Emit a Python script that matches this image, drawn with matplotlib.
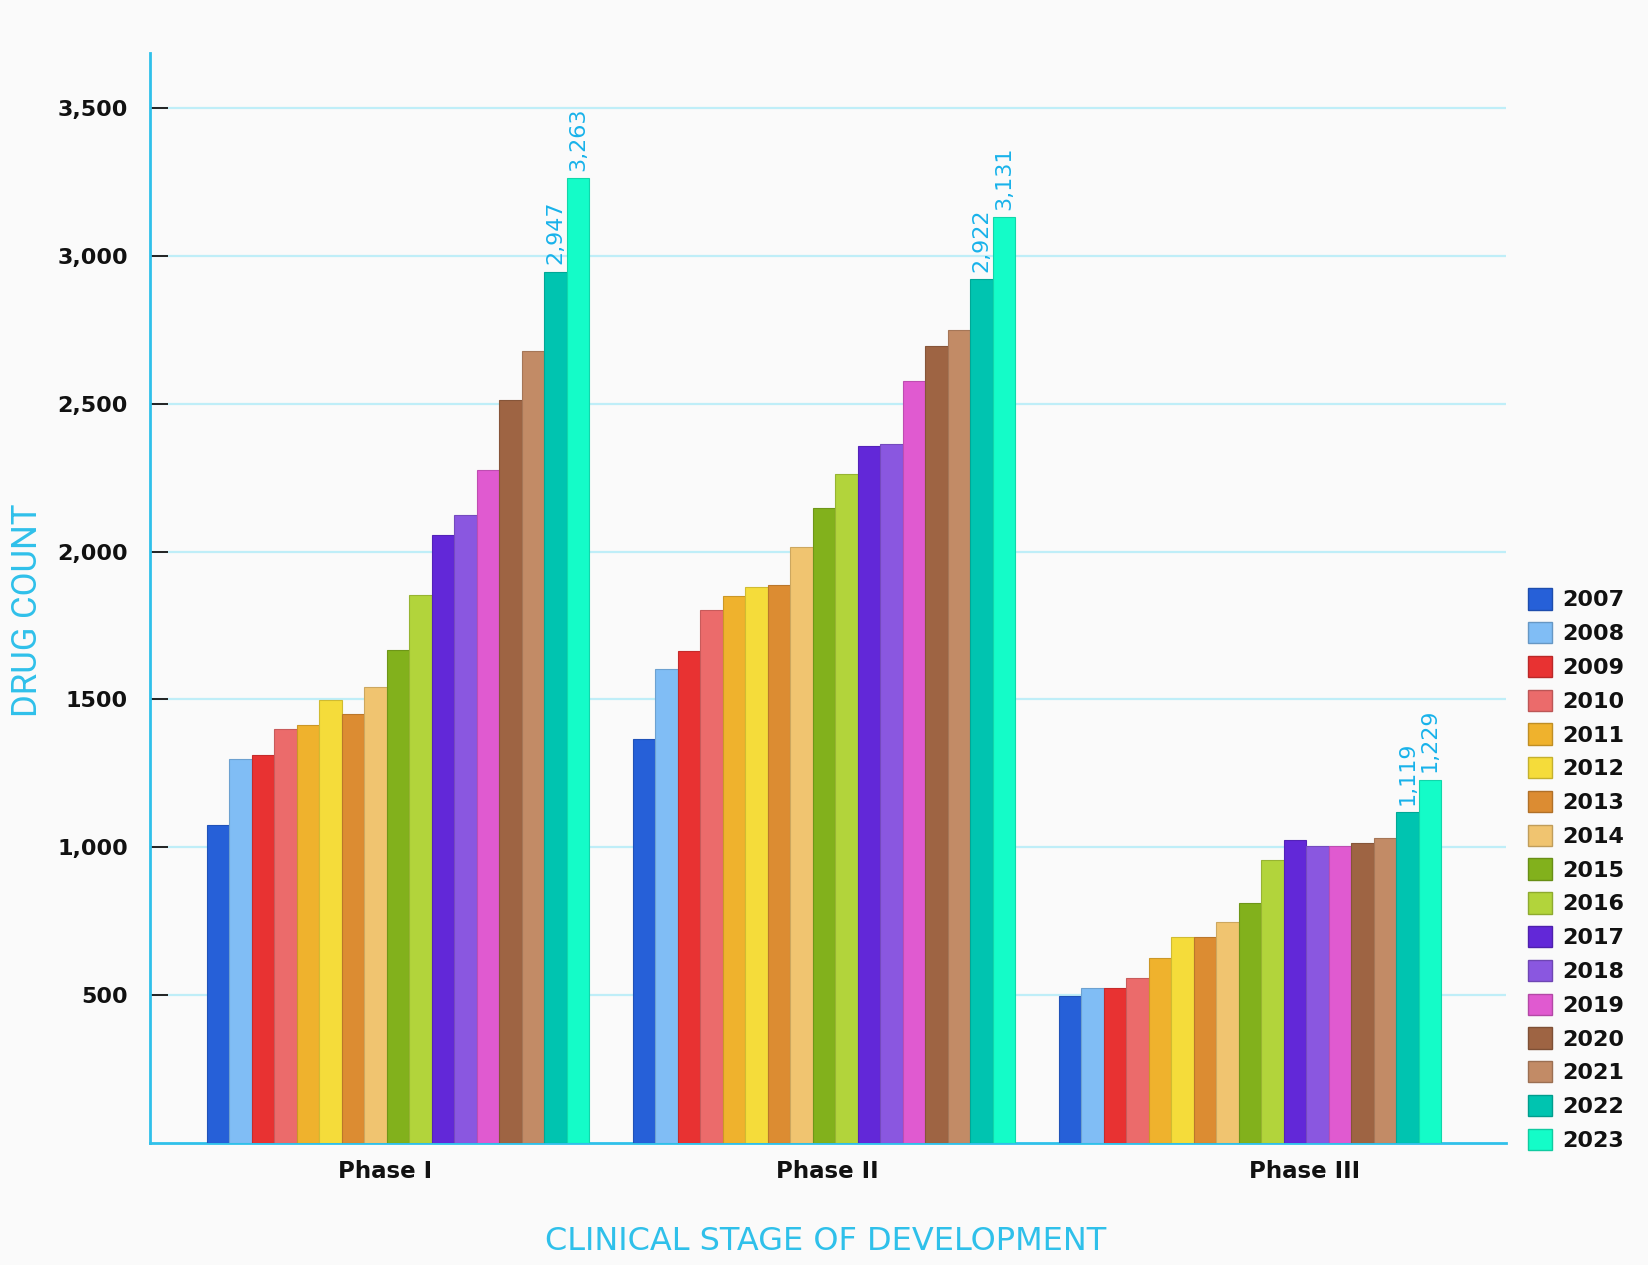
import matplotlib
matplotlib.use("Agg")
import matplotlib.pyplot as plt
from matplotlib import font_manager
import numpy as np
from matplotlib.patches import Patch

# ---- data ----
phases = ["Phase I", "Phase II", "Phase III"]
years = ["2007", "2008", "2009", "2010", "2011", "2012", "2013", "2014", "2015",
         "2016", "2017", "2018", "2019", "2020", "2021", "2022", "2023"]
phase1 = [1075, 1300, 1313, 1399, 1413, 1498, 1450, 1543, 1666, 1852,
          2056, 2124, 2276, 2511, 2677, 2947, 3263]
phase2 = [1367, 1602, 1663, 1804, 1849, 1879, 1886, 2015, 2149, 2261,
          2357, 2363, 2578, 2695, 2748, 2922, 3131]
phase3 = [498, 523, 523, 557, 626, 696, 696, 747, 811, 958,
          1025, 1005, 1005, 1016, 1031, 1119, 1229]
labelled_years = ["2022", "2023"]
yticks = [500, 1000, 1500, 2000, 2500, 3000, 3500]
ytick_labels = ["500", "1,000", "1500", "2,000", "2,500", "3,000", "3,500"]

colors = ["#2660d8", "#80bdf5", "#e83232", "#eb6b6b", "#efb22d", "#f5dc3a",
          "#dc8c32", "#f0c470", "#82b11c", "#b2d43b", "#6228d8", "#8a57e0",
          "#e05ad0", "#9e6443", "#c28b66", "#00c4b0", "#14fcc8"]

values = np.array([phase1, phase2, phase3])  # shape (3, 17)

# ---- figure ----
W, H = 1649, 1265
fig = plt.figure(figsize=(W / 100, H / 100), dpi=100)
bg = "#fafafa"
fig.patch.set_facecolor(bg)
ax = fig.add_axes([150 / W, 1 - 1143 / H, (1506 - 150) / W, (1143 - 53) / H])
ax.set_facecolor(bg)

cyan = "#2fc0ea"
label_cyan = "#18b2ea"
n = len(years)
w = 0.897 / n
x = np.arange(len(phases))

def darker(c, f=0.85):
    r, g, b = matplotlib.colors.to_rgb(c)
    return (r * f, g * f, b * f)

for j, yr in enumerate(years):
    xs = x + (j - (n - 1) / 2) * w
    vals = values[:, j]
    ax.bar(xs, vals, width=w, color=colors[j], edgecolor=darker(colors[j]),
           linewidth=0.8, zorder=3)
    if yr in labelled_years:
        for xi, v in zip(xs, vals):
            ax.text(xi, v + 25, f"{v:,}", rotation=90, ha="center", va="bottom",
                    color=label_cyan, fontsize=16, family="DejaVu Sans", zorder=4)

ax.set_xlim(-0.582, 2.601)
ax.set_ylim(0, 3686)

# grid
ax.set_yticks(yticks)
ax.set_yticklabels(ytick_labels)
ax.yaxis.grid(True, color="#bfeef8", linewidth=1.6, zorder=0)
ax.set_axisbelow(True)
ax.tick_params(axis="y", direction="in", length=13, width=1.4, color="#222222",
               pad=16, labelsize=16)
for lab in ax.get_yticklabels():
    lab.set_fontweight("bold")
    lab.set_color("#111111")

label_offsets = [-0.03, 0.007, 0.127]
ax.set_xticks(x + np.array(label_offsets))
ax.set_xticklabels(phases, fontsize=16.5, fontweight="bold", color="#111111")
ax.tick_params(axis="x", length=0, pad=12)

for s in ["top", "right"]:
    ax.spines[s].set_visible(False)
ax.spines["left"].set_color(cyan)
ax.spines["left"].set_linewidth(2)
ax.spines["bottom"].set_color(cyan)
ax.spines["bottom"].set_linewidth(2)

# axis titles
fig.text(826 / W, 1 - 1242 / H, "CLINICAL STAGE OF DEVELOPMENT", ha="center",
         va="center", color=cyan, fontsize=23, family="DejaVu Sans")

names = {f.name for f in font_manager.fontManager.ttflist}
if "Liberation Sans Narrow" in names:
    yfam, ysize = "Liberation Sans Narrow", 28
else:
    yfam, ysize = "Roboto", 25
fig.text(28 / W, 1 - 580 * 1.0517 / H, "DRUG COUNT", ha="center", va="center",
         rotation=90, color=cyan, fontsize=ysize, family=yfam)

# legend
handles = [Patch(facecolor=c, edgecolor=darker(c, 0.8), linewidth=1) for c in colors]
leg = fig.legend(handles, years, loc="center left",
                 bbox_to_anchor=(1528 / W, 1 - 869.5 / H), frameon=False,
                 borderpad=0, borderaxespad=0, handlelength=1.1,
                 handleheight=1.1, handletextpad=0.45, labelspacing=0.52,
                 prop={"size": 16, "weight": "bold"})
for t in leg.get_texts():
    t.set_color("#111111")

fig.savefig("out.png", dpi=100, facecolor=bg)
